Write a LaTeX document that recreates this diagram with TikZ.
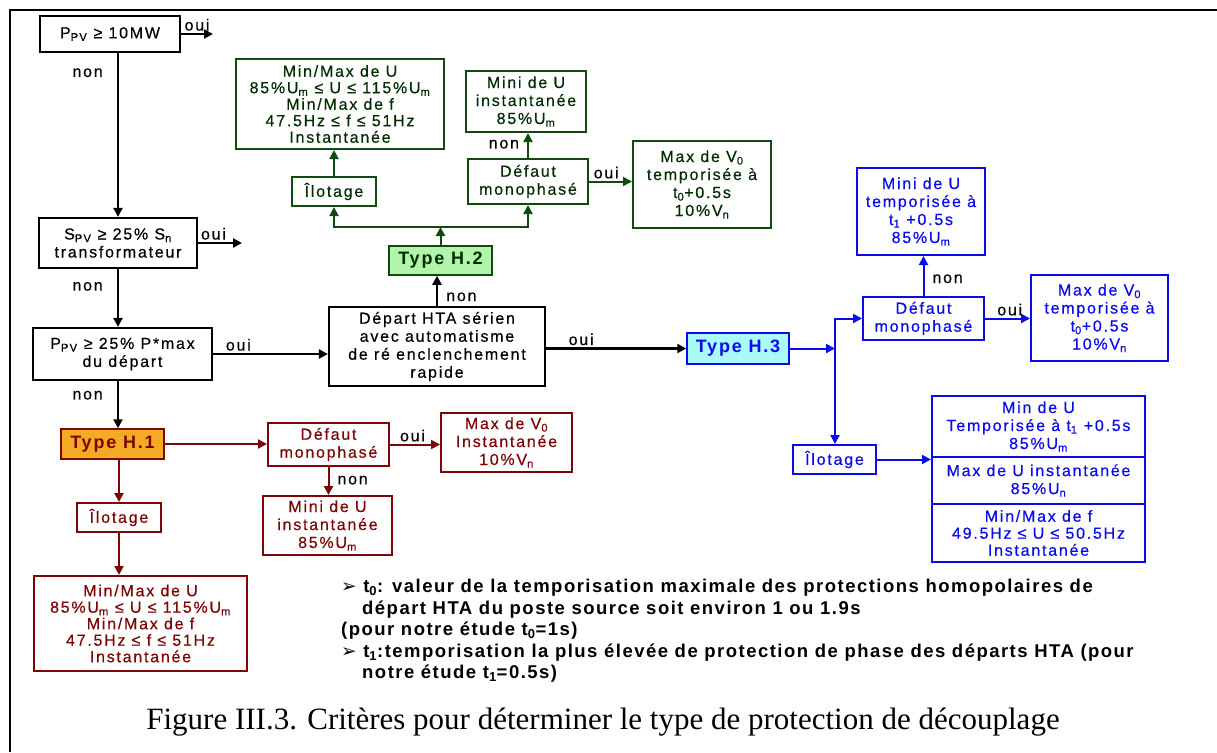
\documentclass[tikz,border=0pt]{standalone}
\usepackage{fontspec}
\usepackage{xcolor}
\usepackage{tikz}
\usetikzlibrary{arrows.meta, positioning, calc}
\setmainfont{Liberation Serif}
\newfontfamily\boxfont{Liberation Sans}[LetterSpace=11, FakeBold=0.4]
\newfontfamily\typefont{Liberation Sans}[LetterSpace=10]
\newfontfamily\notefont{Liberation Sans}[LetterSpace=8]
\newfontfamily\dingfont{DejaVu Sans}
\definecolor{darkgreen}{RGB}{15, 75, 15}
\definecolor{textgreen}{RGB}{0, 45, 0}
\definecolor{darkred}{RGB}{125, 5, 5}
\definecolor{boxblue}{RGB}{10, 10, 235}
\definecolor{orangefill}{RGB}{245, 170, 35}
\definecolor{greenfill}{RGB}{178, 245, 170}
\definecolor{cyanfill}{RGB}{170, 250, 250}
\tikzset{
    kbox/.style = {rectangle, draw=black, fill=white, line width=2.2pt, align=center, inner sep=1pt, font=\boxfont\fontsize{16}{18}\selectfont},
    gbox/.style = {kbox, draw=darkgreen, line width=2pt, text=textgreen},
    rbox/.style = {kbox, draw=darkred, line width=2pt, text=darkred},
    bluebox/.style = {kbox, draw=boxblue, line width=2pt, text=boxblue},
    typebox/.style = {rectangle, line width=1.5pt, inner sep=1pt, font=\typefont\fontsize{18}{20}\selectfont\bfseries},
    wh/.style 2 args = {minimum width=#1pt, minimum height=#2pt},
    arrow/.style = {line width=2.6pt, -{Triangle[length=9pt, width=9pt]}},
    carrow/.style = {line width=2pt, -{Triangle[length=9pt, width=9pt]}},
    lbl/.style = {font=\boxfont\fontsize{16}{18}\selectfont, text=black, inner sep=2pt}
}

\begin{document}
\begin{tikzpicture}[x=1pt, y=-1pt]
\useasboundingbox (0,0) rectangle (1217,752);
\draw [line width=2.5pt] (10,752) -- (10,10) -- (1217,10);

% criteria column
\node (p1) [kbox, wh={140}{36}] at (110,34) {P\textsubscript{PV} ≥ 10MW};
\node (p2) [kbox, wh={158}{50}] at (118,243) {S\textsubscript{PV} ≥ 25\% S\textsubscript{n}\\transformateur};
\node (p3) [kbox, wh={179}{52}] at (122.5,354) {P\textsubscript{PV} ≥ 25\% P*max\\du départ};
\node (depart) [kbox, wh={216}{79}] at (437,346.5) {Départ HTA sérien\\avec automatisme\\de ré enclenchement\\rapide};
\coordinate (oui1) at (213,34);
\coordinate (oui2) at (242,243);

% type H.1
\node (h1) [typebox, draw=darkred, fill=orangefill, text=darkred, wh={103}{30}] at (112.5,444) {Type H.1};
\node (defR) [rbox, wh={121}{43}] at (328.5,444.5) {Défaut\\monophasé};
\node (maxR) [rbox, wh={131}{59}] at (506.5,442.5) {Max de V\textsubscript{0}\\Instantanée\\10\%V\textsubscript{n}};
\node (miniR) [rbox, wh={129}{59}] at (327.5,525.5) {Mini de U\\instantanée\\85\%U\textsubscript{m}};
\node (ilotR) [rbox, wh={84}{29}] at (119,517.5) {Îlotage};
\node (mmR) [rbox, wh={213}{95}, font=\boxfont\fontsize{16}{16.5}\selectfont] at (140.5,623.5) {Min/Max de U\\85\%U\textsubscript{m} ≤ U ≤ 115\%U\textsubscript{m}\\Min/Max de f\\47.5Hz ≤ f ≤ 51Hz\\Instantanée};

% type H.2
\node (h2) [typebox, draw=darkgreen, fill=greenfill, text=textgreen, wh={103}{29}] at (440.5,260.5) {Type H.2};
\coordinate (busG) at (440.5,227);
\node (ilotG) [gbox, wh={84}{29}] at (334,191.5) {Îlotage};
\node (mmG) [gbox, wh={208}{90}, font=\boxfont\fontsize{16}{16.5}\selectfont] at (340,104) {Min/Max de U\\85\%U\textsubscript{m} ≤ U ≤ 115\%U\textsubscript{m}\\Min/Max de f\\47.5Hz ≤ f ≤ 51Hz\\Instantanée};
\node (defG) [gbox, wh={120}{45}] at (528,181.5) {Défaut\\monophasé};
\node (miniG) [gbox, wh={120}{61}] at (526,101.5) {Mini de U\\instantanée\\85\%U\textsubscript{m}};
\node (maxG) [gbox, wh={138}{87}] at (702,184.5) {Max de V\textsubscript{0}\\temporisée à\\t\textsubscript{0}+0.5s\\10\%V\textsubscript{n}};

% type H.3
\node (h3) [typebox, draw=boxblue, fill=cyanfill, text=boxblue, wh={102}{31}] at (738,348.5) {Type H.3};
\coordinate (jB) at (835,348.5);
\node (defB) [bluebox, wh={121}{43}] at (923.5,318.5) {Défaut\\monophasé};
\node (miniB) [bluebox, wh={128}{87}] at (921,211.5) {Mini de U\\temporisée à\\t\textsubscript{1} +0.5s\\85\%U\textsubscript{m}};
\node (maxB) [bluebox, wh={137}{86}] at (1099.5,318) {Max de V\textsubscript{0}\\temporisée à\\t\textsubscript{0}+0.5s\\10\%V\textsubscript{n}};
\node (ilotB) [bluebox, wh={83}{29}] at (834.5,459.5) {Îlotage};
\node (b1) [bluebox, wh={213}{61}] at (1038.5,426.5) {Min de U\\Temporisée à t\textsubscript{1} +0.5s\\85\%U\textsubscript{m}};
\node (b2) [bluebox, wh={213}{47}] at (1038.5,480.5) {Max de U instantanée\\85\%U\textsubscript{n}};
\node (b3) [bluebox, wh={213}{58}, font=\boxfont\fontsize{16}{17}\selectfont] at (1038.5,533) {Min/Max de f\\49.5Hz ≤ U ≤ 50.5Hz\\Instantanée};

% connectors
\draw [arrow] (p1) -- node[lbl, above] {oui} (oui1);
\draw [arrow] (p2) -- node[lbl, above, pos=0.35] {oui} (oui2);
\draw [arrow] (p1.south -| p2) -- node[lbl, pos=0.12, left=12pt] {non} (p2);
\draw [arrow] (p2) -- node[lbl, pos=0.3, left=12pt] {non} (p2 |- p3.north);
\draw [arrow] (p2 |- p3.south) -- node[lbl, pos=0.3, left=12pt] {non} (p2 |- h1.north);
\draw [arrow] (p3.east) -- node[lbl, above, pos=0.22] {oui} (p3.east -| depart.west);
\draw [arrow] (depart) -- node[lbl, right=6pt, pos=0.3] {non} (depart |- h2.south);
\draw [arrow] (depart.east |- h3) -- node[lbl, above, pos=0.25] {oui} (h3);

\draw [carrow, darkred] (h1) -- (h1 -| defR.west);
\draw [carrow, darkred] (defR) -- node[lbl, above, pos=0.45] {oui} (defR -| maxR.west);
\draw [carrow, darkred] (defR) -- node[lbl, right=6pt, pos=0.47] {non} (defR |- miniR.north);
\draw [carrow, darkred] (h1.south -| ilotR) -- (ilotR);
\draw [carrow, darkred] (ilotR) -- (ilotR |- mmR.north);

\draw [carrow, darkgreen] (h2) -- (busG);
\draw [carrow, darkgreen] (busG) -| (ilotG);
\draw [carrow, darkgreen] (busG) -| (defG);
\draw [carrow, darkgreen] (ilotG) -- (ilotG |- mmG.south);
\draw [carrow, darkgreen] (defG) -- node[lbl, left=6pt, pos=0.55] {non} (defG |- miniG.south);
\draw [carrow, darkgreen] (defG) -- node[lbl, above, pos=0.4] {oui} (defG -| maxG.west);

\draw [carrow, boxblue] (h3) -- (jB);
\draw [carrow, boxblue] (jB) |- (defB);
\draw [carrow, boxblue] (jB) -- (jB |- ilotB.north);
\draw [carrow, boxblue] (defB) -- node[lbl, right=6pt, pos=0.43] {non} (defB |- miniB.south);
\draw [carrow, boxblue] (defB) -- node[lbl, above, pos=0.55] {oui} (defB -| maxB.west);
\draw [carrow, boxblue] (ilotB) -- (ilotB -| b1.west);

% notes and caption
\node (notes) [anchor=north west, align=left, inner sep=0pt, font=\notefont\fontsize{18.5}{21.5}\selectfont\bfseries] at (341,579) {%
{\dingfont\mdseries ➢} t\textsubscript{0}: valeur de la temporisation maximale des protections homopolaires de\\
\hspace*{21pt}départ HTA du poste source soit environ 1 ou 1.9s\\
(pour notre étude t\textsubscript{0}=1s)\\
{\dingfont\mdseries ➢} t\textsubscript{1}:temporisation la plus élevée de protection de phase des départs HTA (pour\\
\hspace*{21pt}notre étude t\textsubscript{1}=0.5s)};
\node (caption) at (603,722) {\fontsize{31}{36}\selectfont Figure III.3. Critères pour déterminer le type de protection de découplage};
\end{tikzpicture}
\end{document}
